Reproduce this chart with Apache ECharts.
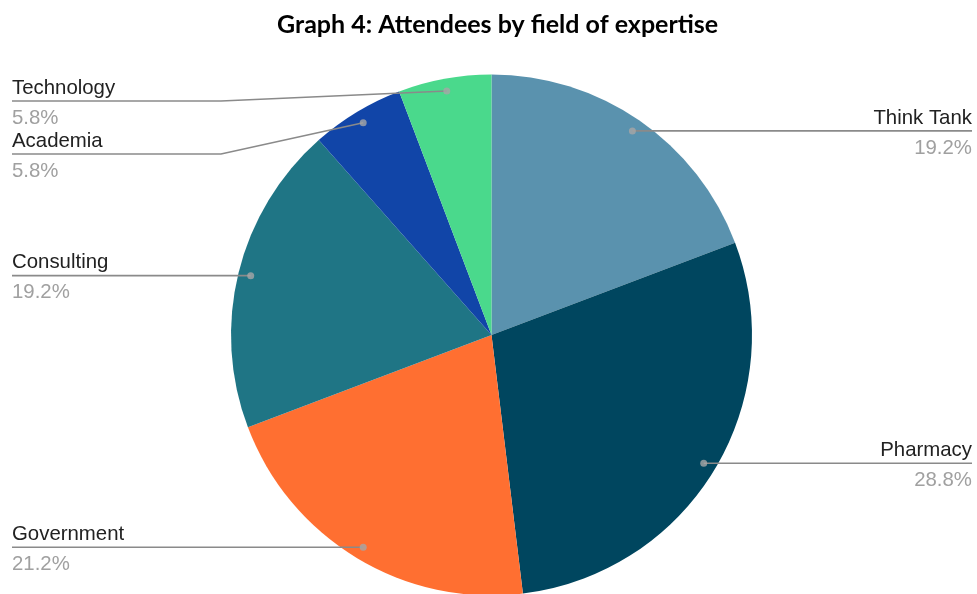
<!DOCTYPE html>
<html>
<head>
<meta charset="utf-8">
<script src="https://cdn.jsdelivr.net/npm/echarts@6/dist/echarts.min.js"></script>
<style>
  html, body { margin: 0; padding: 0; background: #fff; }
  #chart { width: 977px; height: 594px; }
</style>
</head>
<body>
<div id="chart"></div>
<script>
// Attendees by field of expertise (head counts)
const categories = ['Think Tank', 'Pharmacy', 'Government', 'Consulting', 'Academia', 'Technology'];
const attendees = [10, 15, 11, 10, 3, 3];
const sliceColors = ['#5a92ae', '#00465f', '#ff6f31', '#1f7585', '#1145a8', '#4ad98c'];

// Geometry of the pie
const CX = 491.5, CY = 335, R = 260.5;
const DOT_R = 0.952;          // marker position as a fraction of the radius
const LEFT_X = 12, RIGHT_X = 972;
const BEND_GAP = 10;          // label line elbow distance outside the pie
const MIN_LINE_Y = 101;       // topmost label line
const LABEL_GAP = 53;         // minimum vertical spacing of stacked labels
const TEXT_SHIFT = 2;         // text block offset relative to its line

const total = attendees.reduce((a, b) => a + b, 0);
const mids = [];
let acc = 0;
attendees.forEach(v => { mids.push(acc + v / 2); acc += v; });

function dotPoint(i) {
  const t = mids[i] / total * Math.PI * 2;
  return [CX + DOT_R * R * Math.sin(t), CY - DOT_R * R * Math.cos(t)];
}

// Label line heights: follow the marker, but keep labels on each side apart
const lineY = categories.map((c, i) => dotPoint(i)[1]);
const side = categories.map((c, i) => dotPoint(i)[0] >= CX ? 'right' : 'left');
['left', 'right'].forEach(s => {
  const idx = categories.map((c, i) => i).filter(i => side[i] === s)
    .sort((a, b) => lineY[a] - lineY[b]);
  let prev = -Infinity;
  idx.forEach(i => {
    const y = Math.max(lineY[i], MIN_LINE_Y, prev + LABEL_GAP);
    lineY[i] = y;
    prev = y;
  });
});

const pieData = categories.map((name, i) => ({
  name, value: attendees[i], itemStyle: { color: sliceColors[i] }
}));
const labelData = categories.map((name, i) => ({ name, value: attendees[i] }));
const markerData = categories.map((name, i) => [DOT_R, mids[i]]);

const FONT = '"Liberation Sans", Arial, sans-serif';

const chart = echarts.init(document.getElementById('chart'), null, { renderer: 'canvas' });
chart.setOption({
  animation: false,
  backgroundColor: '#ffffff',
  title: {
    text: 'Graph 4: Attendees by field of expertise',
    left: 272,
    top: 7,
    textStyle: { fontFamily: 'Lato', fontWeight: 'bold', fontSize: 25, color: '#000' }
  },
  polar: { center: [CX, CY], radius: [0, R] },
  angleAxis: { type: 'value', min: 0, max: total, startAngle: 90, clockwise: true, show: false },
  radiusAxis: { type: 'value', min: 0, max: 1, show: false },
  series: [
    {
      // coloured slices
      type: 'pie',
      z: 2,
      center: [CX, CY],
      radius: [0, R],
      startAngle: 90,
      clockwise: true,
      silent: true,
      data: pieData,
      label: { show: false },
      labelLine: { show: false }
    },
    {
      // labels and leader lines, drawn above the slices
      type: 'pie',
      z: 4,
      center: [CX, CY],
      radius: [0, R],
      startAngle: 90,
      clockwise: true,
      avoidLabelOverlap: false,
      silent: true,
      data: labelData,
      itemStyle: { color: 'rgba(0,0,0,0)' },
      label: {
        show: true,
        position: 'outside',
        fontFamily: FONT,
        formatter: p => '{n|' + p.name + '}\n{p|' + (p.value / total * 100).toFixed(1) + '%}',
        rich: {
          n: { fontFamily: FONT, fontSize: 20.4, color: '#222222', lineHeight: 30 },
          p: { fontFamily: FONT, fontSize: 20.4, color: '#a0a0a0', lineHeight: 30 }
        }
      },
      labelLine: { show: true, lineStyle: { color: '#8a8a8a', width: 1.6 } },
      labelLayout: params => {
        const i = params.dataIndex;
        const d = dotPoint(i);
        const y = lineY[i];
        if (side[i] === 'right') {
          return {
            x: RIGHT_X, y: y + TEXT_SHIFT, align: 'right', verticalAlign: 'middle',
            labelLinePoints: [d, [CX + R + BEND_GAP, y], [RIGHT_X, y]]
          };
        }
        return {
          x: LEFT_X, y: y + TEXT_SHIFT, align: 'left', verticalAlign: 'middle',
          labelLinePoints: [d, [CX - R - BEND_GAP, y], [LEFT_X, y]]
        };
      }
    },
    {
      type: 'scatter',
      coordinateSystem: 'polar',
      silent: true,
      symbol: 'circle',
      symbolSize: 7,
      z: 6,
      itemStyle: { color: '#a6a6a6' },
      data: markerData
    }
  ]
});
</script>
</body>
</html>
